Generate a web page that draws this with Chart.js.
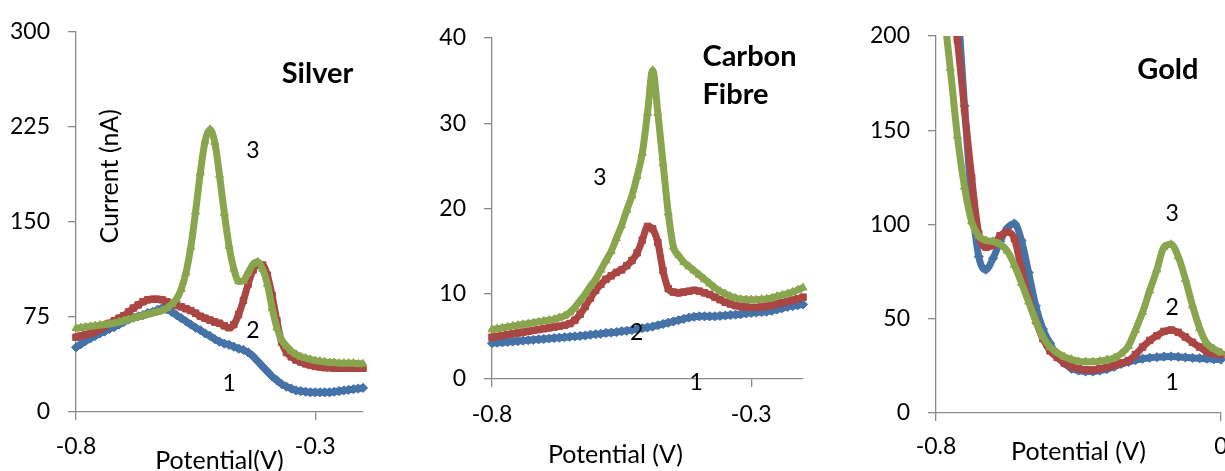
<!DOCTYPE html>
<html>
<head>
<meta charset="utf-8">
<title>Stripping voltammograms</title>
<script src="https://cdn.jsdelivr.net/npm/chart.js@4.4.1/dist/chart.umd.min.js"></script>
<style>
  html, body { margin: 0; padding: 0; background: #fff; overflow: hidden; }
  body { width: 1225px; height: 471px; position: relative; }
  canvas { position: absolute; top: 0; }
  #silver { left: 0; }
  #carbon { left: 400px; }
  #gold { left: 830px; }
</style>
</head>
<body>
<canvas id="silver" width="400" height="476"></canvas>
<canvas id="carbon" width="430" height="476"></canvas>
<canvas id="gold" width="430" height="476"></canvas>
<script>
// potential sweep (V) used by the silver and carbon fibre scans
const sweep = [
  -0.80, -0.79, -0.78, -0.77, -0.76, -0.75, -0.74, -0.73, -0.72, -0.71,
  -0.70, -0.69, -0.68, -0.67, -0.66, -0.65, -0.64, -0.63, -0.62, -0.61,
  -0.60, -0.59, -0.58, -0.57, -0.56, -0.55, -0.54, -0.53, -0.52, -0.51,
  -0.50, -0.49, -0.48, -0.47, -0.46, -0.45, -0.44, -0.43, -0.42, -0.41,
  -0.40, -0.39, -0.38, -0.37, -0.36, -0.35, -0.34, -0.33, -0.32, -0.31,
  -0.30, -0.29, -0.28, -0.27, -0.26, -0.25, -0.24, -0.23, -0.22, -0.21,
  -0.20
];

// gold scan runs further, sampled more coarsely
const goldSweep = [
  -0.80, -0.78, -0.76, -0.74, -0.72, -0.70, -0.68, -0.66, -0.64, -0.62,
  -0.60, -0.58, -0.56, -0.54, -0.52, -0.50, -0.48, -0.46, -0.44, -0.42,
  -0.40, -0.38, -0.36, -0.34, -0.32, -0.30, -0.28, -0.26, -0.24, -0.22,
  -0.20, -0.18, -0.16, -0.14, -0.12, -0.10, -0.08, -0.06, -0.04, -0.02,
  0.00
];

// currents in nA, curves 1..3
const silver1 = [
  51, 53.5, 56, 58, 60, 62, 63.5, 65.5, 67, 69,
  71, 73, 74.5, 75.5, 76.5, 78, 79, 80.5, 82, 81,
  79, 76.5, 74, 71.5, 69, 66.5, 64.5, 62, 60, 57.5,
  55.5, 54, 53, 51.5, 50, 49, 47, 44, 40, 36,
  32, 28, 25, 22, 20, 18.5, 17, 16.5, 16, 15.5,
  15.5, 15.5, 15.5, 15.5, 16, 16.5, 17, 17.5, 18, 18.5,
  19
];
const silver2 = [
  59, 60, 61, 62, 63.5, 65.5, 67.5, 70, 72, 74,
  76, 79, 82, 84.5, 87, 88.5, 89, 89, 88.5, 87,
  85.5, 84, 83, 81.5, 80, 78, 75.5, 74, 72.5, 71,
  70, 68, 66.5, 69, 77, 88, 101, 112, 116, 116,
  108, 92, 72, 55, 47, 43.5, 41, 39.5, 38, 37,
  36, 35.5, 35, 35, 34.5, 34.5, 34.5, 34.5, 34.5, 34.5,
  34.5
];
const silver3 = [
  66, 66.5, 67, 67.5, 68, 68.5, 69, 69.5, 70, 71,
  72, 73, 74, 75, 76, 77, 78, 79, 80, 82,
  85, 89, 97, 110, 130, 158, 189, 214, 223, 213,
  187, 157, 131, 113, 103, 103.5, 110, 116.5, 118.5, 113,
  101, 82, 66.5, 57, 52, 48, 45.5, 43.5, 42.5, 41.5,
  40.5, 40, 39.5, 39, 39, 38.5, 38.5, 38.5, 38.5, 38,
  38
];

const carbon1 = [
  4.2, 4.25, 4.3, 4.35, 4.4, 4.45, 4.5, 4.55, 4.6, 4.65,
  4.7, 4.75, 4.8, 4.85, 4.9, 4.95, 5.0, 5.05, 5.1, 5.2,
  5.25, 5.3, 5.4, 5.45, 5.5, 5.6, 5.65, 5.75, 5.85, 5.95,
  6.05, 6.15, 6.3, 6.45, 6.6, 6.75, 6.9, 7.05, 7.2, 7.3,
  7.35, 7.35, 7.35, 7.35, 7.4, 7.45, 7.5, 7.55, 7.6, 7.7,
  7.75, 7.8, 7.85, 7.9, 8.0, 8.15, 8.3, 8.45, 8.55, 8.65,
  8.75
];
const carbon2 = [
  4.9, 5.0, 5.1, 5.2, 5.3, 5.4, 5.5, 5.6, 5.7, 5.8,
  5.9, 6.0, 6.1, 6.2, 6.3, 6.5, 6.9, 7.6, 8.5, 9.5,
  10.4, 11.1, 11.7, 12.1, 12.5, 12.8, 13.3, 13.9, 14.8, 16.3,
  17.9, 17.6, 16.0, 12.7, 10.6, 10.2, 10.1, 10.2, 10.3, 10.4,
  10.3, 10.1, 9.9, 9.6, 9.3, 9.0, 8.8, 8.6, 8.5, 8.45,
  8.4, 8.4, 8.45, 8.55, 8.65, 8.8, 8.95, 9.1, 9.25, 9.4,
  9.6
];
const carbon3 = [
  5.8, 5.9, 6.0, 6.1, 6.2, 6.3, 6.4, 6.5, 6.6, 6.7,
  6.8, 6.9, 7.0, 7.2, 7.4, 7.8, 8.4, 9.2, 10.0, 10.9,
  11.7, 12.8, 13.9, 15.0, 16.5, 18.0, 19.8, 21.5, 23.8, 26.5,
  31.2, 36.2, 31.2, 25.3, 19.5, 15.5, 14.5, 13.7, 13.2, 12.7,
  12.2, 11.7, 11.2, 10.7, 10.3, 10.0, 9.7, 9.5, 9.35, 9.3,
  9.3, 9.3, 9.35, 9.4, 9.5, 9.7, 9.85, 10.0, 10.2, 10.45,
  10.7
];

const gold1 = [
  360, 320, 275, 220, 163, 113, 83, 76, 82, 91,
  98, 100.5, 91.5, 74.5, 56.8, 44.5, 37, 30, 26.5, 23.5,
  22.5, 22, 22, 22.5, 23.3, 24.5, 26, 27, 28, 28.8,
  29.3, 29.6, 29.9, 30, 29.8, 29.5, 29.2, 29, 28.8, 28.5,
  28.3
];
const gold2 = [
  300, 265, 230, 198, 161, 125, 95, 88, 89, 94,
  96, 92.5, 76, 61, 49, 39.5, 33, 29.5, 26.5, 24.5,
  23.5, 23, 22.8, 23.5, 24.2, 25.3, 26.5, 27.8, 31, 35,
  38.5, 41, 43.3, 44, 42.8, 40.3, 37.5, 35, 32.5, 31.5,
  31
];
const gold3 = [
  255, 217, 183, 147, 120, 101.5, 94, 91.5, 91, 89.5,
  86, 78.5, 69, 59, 49, 40.5, 35, 32, 29.8, 28.5,
  27.4, 27.2, 27.2, 27.5, 28.2, 29.2, 31.5, 35.5, 44, 53.5,
  65, 76, 88, 89.5, 83, 71, 57, 45, 37, 34,
  32
];

// axis ticks
const silverYTicks = [0, 75, 150, 225, 300];
const carbonYTicks = [0, 10, 20, 30, 40];
const goldYTicks = [0, 50, 100, 150, 200];
const silverXTicks = [-0.8, -0.3];
const carbonXTicks = [-0.8, -0.3];
const goldXTicks = [-0.8, 0];

const curveLabels = ['1', '2', '3'];
const curveColours = ['#4572A7', '#AA4643', '#89A54E'];
const curveMarkers = ['rectRot', 'rect', 'triangle'];
const axisGrey = '#8a8a8a';
const ink = '#000';
const tickFont = { family: 'Lato', size: 23 };
const titleFont = { family: 'Lato', size: 25 };
const noteFont = '23px Lato';
const sideFont = '25px Lato';
const headFont = 'bold 29px Lato';

// free text placed in data coordinates (panel names, curve numbers, titles)
function notesPlugin(notes) {
  return {
    id: 'notes',
    afterDatasetsDraw(chart) {
      const { ctx, scales } = chart;
      ctx.save();
      ctx.fillStyle = ink;
      ctx.textBaseline = 'middle';
      for (const n of notes) {
        ctx.save();
        ctx.translate(scales.x.getPixelForValue(n.x), scales.y.getPixelForValue(n.y));
        if (n.rotate) ctx.rotate(n.rotate * Math.PI / 180);
        ctx.font = n.font || noteFont;
        ctx.textAlign = n.align || 'center';
        ctx.fillText(n.text, 0, 0);
        ctx.restore();
      }
      ctx.restore();
    }
  };
}

const fixedTicks = (list) => (scale) => {
  scale.ticks = list.map((value) => ({ value }));
};

function drawPanel(id, p) {
  const datasets = p.series.map((values, i) => ({
    label: curveLabels[i],
    data: p.potential.map((v, k) => ({ x: v, y: values[k] })),
    borderColor: curveColours[i],
    backgroundColor: curveColours[i],
    pointBorderColor: curveColours[i],
    borderWidth: 7,
    pointStyle: curveMarkers[i],
    pointRadius: 4.6,
    pointBorderWidth: 1,
    cubicInterpolationMode: 'monotone',
    order: p.series.length - i,
    clip: p.clip
  }));

  const axisGrid = { drawOnChartArea: false, tickLength: 8, color: axisGrey, lineWidth: 1.3 };
  const axisBorder = { color: axisGrey, width: 1.3 };

  new Chart(document.getElementById(id), {
    type: 'line',
    data: { datasets },
    options: {
      responsive: false,
      animation: false,
      devicePixelRatio: 1,
      layout: { padding: p.padding },
      plugins: { legend: { display: false }, tooltip: { enabled: false } },
      scales: {
        x: {
          type: 'linear',
          min: p.xTicks[0],
          max: p.xMax,
          afterBuildTicks: fixedTicks(p.xTicks),
          afterFit: (s) => { s.height = p.xHeight; },
          grid: axisGrid,
          border: axisBorder,
          ticks: { font: tickFont, color: ink, padding: p.xPad, maxRotation: 0, autoSkip: false,
                   callback: (v) => String(v) },
          title: p.xTitle
            ? { display: true, text: p.xTitle, font: titleFont, color: ink,
                padding: { top: 0, bottom: p.titlePad } }
            : { display: false }
        },
        y: {
          min: p.yTicks[0],
          max: p.yTicks[p.yTicks.length - 1],
          afterBuildTicks: fixedTicks(p.yTicks),
          afterFit: (s) => { s.width = p.yWidth; },
          grid: axisGrid,
          border: axisBorder,
          ticks: { font: tickFont, color: ink, padding: 18, autoSkip: false }
        }
      }
    },
    plugins: [notesPlugin(p.notes)]
  });
}

drawPanel('silver', {
  potential: sweep,
  series: [silver1, silver2, silver3],
  xTicks: silverXTicks, xMax: -0.2, yTicks: silverYTicks,
  padding: { left: 0, top: 28, right: 37, bottom: 0 },
  yWidth: 76, xHeight: 64, xPad: 13, titlePad: 0,
  xTitle: 'Potential(V)',
  clip: 7,
  notes: [
    { text: 'Silver', x: -0.295, y: 267, font: headFont },
    { text: 'Current (nA)', x: -0.729, y: 186, rotate: -90, font: sideFont },
    { text: '3', x: -0.430, y: 206 },
    { text: '2', x: -0.430, y: 64 },
    { text: '1', x: -0.480, y: 22.7 }
  ]
});

drawPanel('carbon', {
  potential: sweep,
  series: [carbon1, carbon2, carbon3],
  xTicks: carbonXTicks, xMax: -0.2, yTicks: carbonYTicks,
  padding: { left: 0, top: 38, right: 27, bottom: 0 },
  yWidth: 92, xHeight: 97, xPad: 14,
  xTitle: null,
  clip: 7,
  notes: [
    { text: 'Carbon', x: -0.394, y: 37.8, font: headFont, align: 'left' },
    { text: 'Fibre', x: -0.394, y: 33.3, font: headFont, align: 'left' },
    { text: '3', x: -0.592, y: 23.6 },
    { text: '2', x: -0.521, y: 5.4 },
    { text: '1', x: -0.406, y: -0.47 },
    // axis title sits left of the plot centre in this panel
    { text: 'Potential (V)', x: -0.562, y: -8.9, font: sideFont }
  ]
});

drawPanel('gold', {
  potential: goldSweep,
  series: [gold1, gold2, gold3],
  xTicks: goldXTicks, xMax: 0, yTicks: goldYTicks,
  padding: { left: 0, top: 36, right: 39, bottom: 0 },
  yWidth: 106, xHeight: 63, xPad: 12, titlePad: 9,
  xTitle: 'Potential (V)',
  clip: { left: 7, top: 0, right: 7, bottom: 7 },
  notes: [
    { text: 'Gold', x: -0.149, y: 182, font: headFont },
    { text: '3', x: -0.137, y: 106 },
    { text: '2', x: -0.137, y: 55.7 },
    { text: '1', x: -0.137, y: 15.9 }
  ]
});
</script>
</body>
</html>
